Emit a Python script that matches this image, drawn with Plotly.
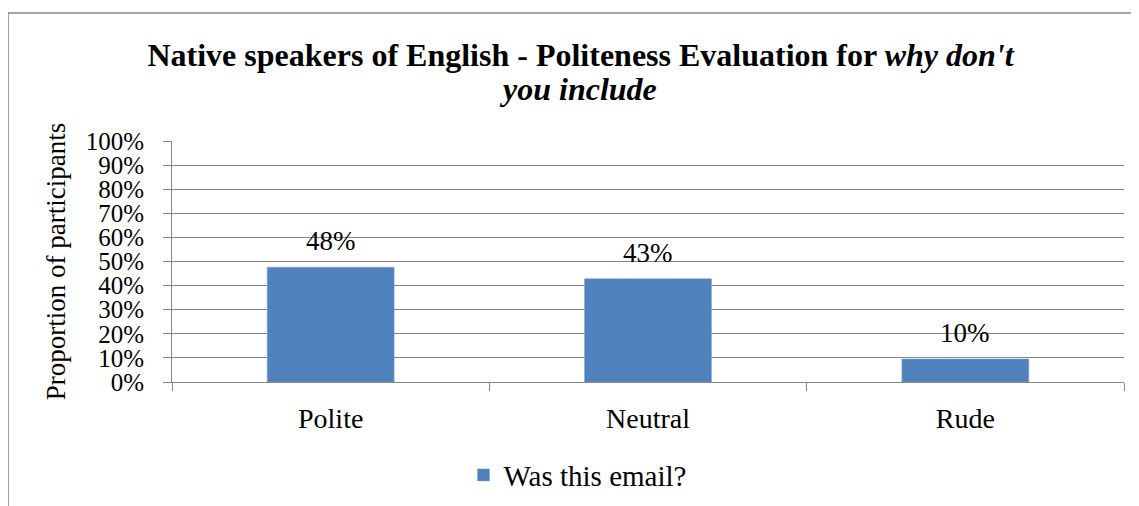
import plotly.graph_objects as go

categories = ["Polite", "Neutral", "Rude"]
proportions = [10/21, 9/21, 2/21]
series_name = "Was this email?"
y_tick_values = [i / 10 for i in range(11)]
y_tick_labels = [f"{i*10}%" for i in range(11)]
title_line1 = "<b>Native speakers of English - Politeness Evaluation for <i>why don't</i></b>"
title_line2 = "<b><i>you include</i></b>"

FONT = "'Times New Roman', 'Liberation Serif', 'DejaVu Serif', serif"
GRID = "#868686"
BAR = "#4F81BD"

# page has an 8px body margin; figure sized/offset accordingly
W, H = 1131, 498
L, R, T, B = 164, 15, 133, 124
PW = W - L - R
PH = H - T - B

def py(fy):
    """figure pixel y (from top) -> paper y"""
    return (T + PH - fy) / PH

def px(fx):
    return (fx - L) / PW

fig = go.Figure()
fig.add_trace(go.Bar(
    x=categories, y=proportions, name=series_name,
    marker=dict(color=BAR, line=dict(color="#7FA2D0", width=0.5)),
    showlegend=True,
))

for c, v in zip(categories, proportions):
    fig.add_annotation(x=c, y=v, text=f"{round(v*100)}%", showarrow=False,
                       yanchor="middle", yshift=26,
                       font=dict(family=FONT, size=27, color="black"))

fig.add_annotation(xref="paper", yref="paper", x=px(569.5), y=py(81),
                   text=title_line2, showarrow=False, xanchor="center", yanchor="middle",
                   font=dict(family=FONT, size=32, color="black"))

fig.update_layout(
    width=W, height=H,
    paper_bgcolor="white", plot_bgcolor="white",
    margin=dict(l=L, r=R, t=T, b=B, autoexpand=False),
    font=dict(family=FONT, color="black"),
    title=dict(
        text=title_line1,
        x=572.5 / W, xanchor="center", xref="container",
        y=1 - 46.5 / H, yanchor="middle",
        font=dict(family=FONT, size=32, color="black"),
    ),
    showlegend=True,
    legend=dict(orientation="h", x=0.426, xanchor="center", y=-0.386, yanchor="middle",
                font=dict(family=FONT, size=29, color="black")),
    bargap=0.6,
)

fig.update_yaxes(
    range=[0, 1], tickvals=y_tick_values, ticktext=y_tick_labels,
    showgrid=True, gridcolor=GRID, gridwidth=1,
    showline=True, linecolor=GRID, linewidth=1,
    ticks="outside", ticklen=8, tickcolor=GRID, ticklabelstandoff=14,
    tickfont=dict(family=FONT, size=25, color="black"),
    title=dict(text="Proportion of participants", standoff=12,
               font=dict(family=FONT, size=27, color="black")),
    zeroline=False, automargin=False,
)
fig.update_xaxes(
    showline=True, linecolor=GRID, linewidth=1,
    ticks="outside", ticklen=8, tickcolor=GRID, tickson="boundaries",
    ticklabelstandoff=11,
    tickfont=dict(family=FONT, size=28, color="black"),
    automargin=False,
)

fig.add_shape(type="rect", xref="paper", yref="paper",
              x0=px(0), x1=1.2, y0=-1.0, y1=py(5),
              line=dict(color=GRID, width=1.5), fillcolor="rgba(0,0,0,0)", layer="below")

fig.write_html("out.html")
